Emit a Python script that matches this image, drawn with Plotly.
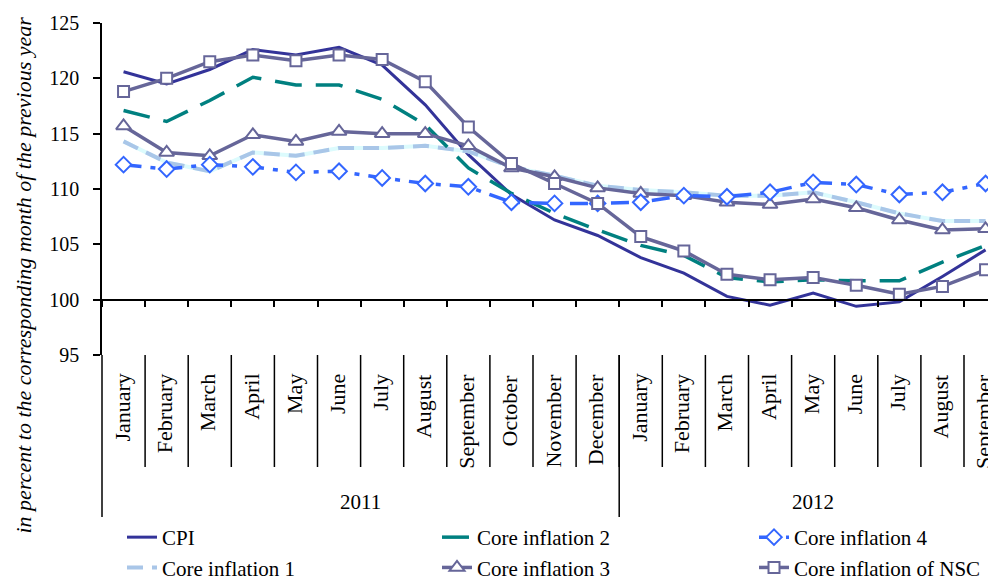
import plotly.graph_objects as go

months = ["January", "February", "March", "April", "May", "June", "July", "August",
          "September", "October", "November", "December",
          "January", "February", "March", "April", "May", "June", "July", "August", "September"]
years = ["2011", "2012"]
year_sizes = [12, 9]
y_ticks = [95, 100, 105, 110, 115, 120, 125]

cpi = [120.6, 119.5, 120.8, 122.6, 122.1, 122.8, 121.2, 117.6, 113.1, 109.5, 107.2, 105.8,
       103.8, 102.4, 100.3, 99.5, 100.6, 99.4, 99.8, 102.1, 104.5]
core1 = [114.3, 112.4, 111.6, 113.3, 113.0, 113.7, 113.7, 113.9, 113.4, 112.0, 111.2, 110.3,
         109.9, 109.7, 109.4, 109.4, 109.7, 108.8, 107.8, 107.1, 107.1]
core2 = [117.1, 116.1, 118.0, 120.1, 119.4, 119.4, 118.1, 115.8, 111.9, 109.6, 107.8, 106.3,
         104.9, 104.0, 102.0, 101.6, 101.8, 101.7, 101.7, 103.4, 104.9]
core3 = [115.7, 113.3, 113.0, 114.9, 114.3, 115.2, 115.0, 115.0, 113.9, 111.9, 111.1, 110.1,
         109.6, 109.4, 108.8, 108.6, 109.1, 108.3, 107.2, 106.3, 106.4]
core4 = [112.2, 111.8, 112.2, 112.0, 111.5, 111.6, 111.0, 110.5, 110.2, 108.8, 108.7, 108.7,
         108.8, 109.4, 109.3, 109.7, 110.6, 110.4, 109.5, 109.7, 110.5]
nsc = [118.8, 120.0, 121.5, 122.1, 121.6, 122.1, 121.7, 119.7, 115.6, 112.3, 110.5, 108.7,
       105.7, 104.4, 102.3, 101.8, 102.0, 101.3, 100.5, 101.2, 102.7]

x = list(range(len(months)))

FONT = "Liberation Serif, Times New Roman, serif"
FS = 21

# page offset (body margin) and geometry
OFF = 8
W, H = 996 - OFF, 581 - OFF
PAGE_L, PAGE_T, PAGE_B = 102, 23, 355   # plot area in page pixels
ML = PAGE_L - OFF
MT = PAGE_T - OFF
MB = H - (PAGE_B - OFF)
MR = 0
PH = H - MT - MB
PW = W - ML - MR
CAT_W = 43.1
x_hi = -0.5 + PW / CAT_W


def py(pix):
    """page pixel row -> paper y"""
    return (PAGE_B - pix) / PH


def px(pix):
    """page pixel column -> paper x"""
    return (pix - PAGE_L) / PW


fig = go.Figure()

fig.add_trace(go.Scatter(x=x, y=cpi, name="CPI", mode="lines",
                         line=dict(color="#333399", width=3), legend="legend"))
fig.add_trace(go.Scatter(x=x, y=core1, name="Core inflation 1 base", mode="lines",
                         line=dict(color="#dcfbfd", width=4), showlegend=False))
fig.add_trace(go.Scatter(x=x, y=core1, name="Core inflation 1", mode="lines",
                         line=dict(color="#a9c6e8", width=4, dash="16px,9px"), legend="legend"))
fig.add_trace(go.Scatter(x=x, y=core2, name="Core inflation 2", mode="lines",
                         line=dict(color="#008080", width=3.5, dash="27px,14px"), legend="legend2"))
fig.add_trace(go.Scatter(x=x, y=core3, name="Core inflation 3", mode="lines+markers",
                         line=dict(color="#666699", width=3.5),
                         marker=dict(symbol="triangle-up", size=13, color="white",
                                     line=dict(color="#666699", width=2)),
                         legend="legend2"))
fig.add_trace(go.Scatter(x=x, y=core4, name="Core inflation 4", mode="lines+markers",
                         line=dict(color="#3366ff", width=3.5, dash="18px,9px,5px,9px"),
                         marker=dict(symbol="diamond", size=12, color="white",
                                     line=dict(color="#3366ff", width=2)),
                         legend="legend3"))
fig.add_trace(go.Scatter(x=x, y=nsc, name="Core inflation of NSC", mode="lines+markers",
                         line=dict(color="#666699", width=3.5),
                         marker=dict(symbol="square", size=11, color="white",
                                     line=dict(color="#666699", width=2)),
                         legend="legend3"))

annotations = []
for i, m in enumerate(months):
    annotations.append(dict(x=i, y=py(372), xref="x", yref="paper", text=m, showarrow=False,
                            textangle=-90, xanchor="center", yanchor="top", xshift=-2,
                            font=dict(family=FONT, size=22, color="black")))
start = 0
for yr, n in zip(years, year_sizes):
    annotations.append(dict(x=start + (n - 1) / 2, y=py(502), xref="x", yref="paper", text=yr,
                            showarrow=False, xanchor="center", yanchor="middle",
                            font=dict(family=FONT, size=FS, color="black")))
    start += n
annotations.append(dict(x=px(23), y=py(536), xref="paper", yref="paper",
                        text="<i>in percent to the corresponding month of the previous year</i>",
                        showarrow=False, textangle=-90, xanchor="center", yanchor="bottom",
                        font=dict(family=FONT, size=22, color="black")))

shapes = []
# month separators
for i in range(1, len(months)):
    shapes.append(dict(type="line", xref="x", yref="paper", x0=i - 0.5, x1=i - 0.5,
                       y0=py(355), y1=py(467), line=dict(color="black", width=1.5)))
# year dividers
b = 0
for n in year_sizes[:-1]:
    b += n
    shapes.append(dict(type="line", xref="x", yref="paper", x0=b - 0.5, x1=b - 0.5,
                       y0=py(355), y1=py(517), line=dict(color="black", width=1.5)))
# y axis extension
shapes.append(dict(type="line", xref="paper", yref="paper", x0=0, x1=0,
                   y0=0, y1=py(517), line=dict(color="black", width=1.5)))

leg_common = dict(orientation="v", xanchor="left", yanchor="top",
                  font=dict(family=FONT, size=FS, color="black"),
                  bgcolor="rgba(0,0,0,0)", tracegroupgap=0)

fig.update_layout(
    width=W, height=H,
    margin=dict(l=ML, r=MR, t=MT, b=MB, autoexpand=False),
    paper_bgcolor="white", plot_bgcolor="white",
    font=dict(family=FONT, size=FS, color="black"),
    xaxis=dict(range=[-0.5, x_hi], showgrid=False, zeroline=False, showticklabels=False,
               tickvals=[i - 0.5 for i in range(len(months) + 1)], ticks="outside", ticklen=7,
               tickwidth=1.5, tickcolor="black", showline=True, linecolor="black", linewidth=1.5,
               anchor="free", position=(100 - 95) / (125 - 95)),
    yaxis=dict(range=[95, 125], tickvals=y_ticks, showgrid=False, zeroline=False,
               ticks="outside", ticklen=7, tickwidth=1.5, tickcolor="black",
               showline=True, linecolor="black", linewidth=1.5,
               tickfont=dict(family=FONT, size=20, color="black"), ticklabelstandoff=10),
    legend=dict(x=px(122), y=py(517), **leg_common),
    legend2=dict(x=px(437), y=py(517), **leg_common),
    legend3=dict(x=px(754), y=py(517), **leg_common),
    annotations=annotations, shapes=shapes,
)

fig.write_html("out.html")
